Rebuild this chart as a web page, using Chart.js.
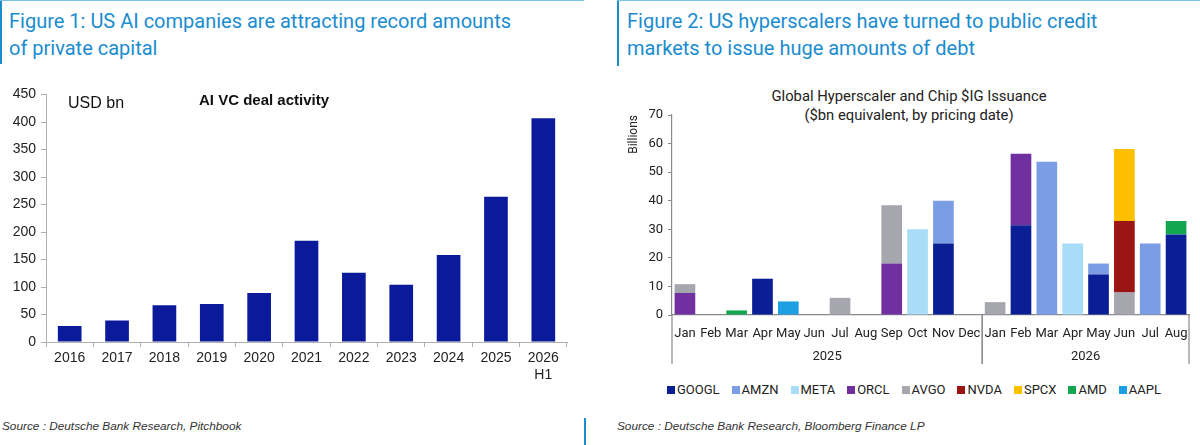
<!DOCTYPE html>
<html lang="en">
<head>
<meta charset="UTF-8">
<title>AI capital charts</title>
<script src="https://cdn.jsdelivr.net/npm/chart.js"></script>
<style>
  * { margin: 0; padding: 0; box-sizing: border-box; }
  body { width: 1200px; height: 445px; background: #fff; position: relative; overflow: hidden; }
  .frame { position: absolute; border-top: 1px solid #7cc0e4; }
  .frame .side { position: absolute; left: 0; top: 0; width: 2px; background: #1a8ccf; }
  .figTitle {
    position: absolute; font-family: Roboto, sans-serif; font-size: 20px; line-height: 27px;
    color: #1a8ccf; white-space: nowrap;
  }
  .box { position: absolute; }
  .note { position: absolute; white-space: nowrap; }
  .source {
    position: absolute; top: 419px; font-family: "Liberation Sans", Arial, sans-serif;
    font-style: italic; font-size: 11.8px; color: #333; white-space: nowrap;
  }
  #legend {
    position: absolute; left: 667px; top: 382px; display: flex; align-items: center;
    font-family: Roboto, sans-serif; font-size: 13px; color: #222; gap: 12px;
  }
  #legend .item { display: flex; align-items: center; }
  #legend .sw { width: 8px; height: 8px; margin-right: 2px; }
</style>
</head>
<body>

<!-- left panel -->
<div class="frame" style="left:0; top:0; width:584px; height:1px;"><div class="side" style="height:63px;"></div></div>
<div class="figTitle" style="left:9px; top:8px;">Figure 1: US AI companies are attracting record amounts<br>of private capital</div>
<div class="box" style="left:0; top:80px; width:585px; height:310px;"><canvas id="vcChart"></canvas></div>
<div class="note" style="left:68px; top:94px; font-family:'Liberation Sans',Arial,sans-serif; font-size:16px; color:#111;">USD bn</div>
<div class="note" style="left:199px; top:91px; font-family:'Liberation Sans',Arial,sans-serif; font-size:15px; font-weight:bold; color:#111;">AI VC deal activity</div>
<div class="source" style="left:2px;">Source : Deutsche Bank Research, Pitchbook</div>
<div style="position:absolute; left:584px; top:418px; width:2px; height:27px; background:#1a8ccf;"></div>

<!-- right panel -->
<div class="frame" style="left:617px; top:0; width:583px; height:1px;"><div class="side" style="height:65px;"></div></div>
<div class="figTitle" style="left:627px; top:8px;">Figure 2: US hyperscalers have turned to public credit<br>markets to issue huge amounts of debt</div>
<div class="note" style="left:709px; top:87px; width:400px; text-align:center; font-family:Roboto,sans-serif; font-size:14.8px; line-height:19px; color:#222;">Global Hyperscaler and Chip $IG Issuance<br>($bn equivalent, by pricing date)</div>
<div class="box" style="left:600px; top:80px; width:600px; height:300px;"><canvas id="igChart"></canvas></div>
<div id="legend"></div>
<div class="source" style="left:617px;">Source : Deutsche Bank Research, Bloomberg Finance LP</div>

<script>
// ---- Figure 1 data
const vcYears = ['2016', '2017', '2018', '2019', '2020', '2021', '2022', '2023', '2024', '2025', ['2026', 'H1']];
const vcValues = [29, 39, 67, 69, 89, 184, 126, 104, 158, 264, 407];
const vcTicks = [0, 50, 100, 150, 200, 250, 300, 350, 400, 450];

// ---- Figure 2 data
const months = ['Jan', 'Feb', 'Mar', 'Apr', 'May', 'Jun', 'Jul', 'Aug', 'Sep', 'Oct', 'Nov', 'Dec',
                'Jan', 'Feb', 'Mar', 'Apr', 'May', 'Jun', 'Jul', 'Aug'];
const years = ['2025', '2026'];
const monthsPerYear = [12, 8];
const issuers = ['GOOGL', 'AMZN', 'META', 'ORCL', 'AVGO', 'NVDA', 'SPCX', 'AMD', 'AAPL'];
const googl = [0, 0, 0, 12.7, 0, 0, 0, 0, 0, 0, 25, 0,   0, 31.4, 0, 0, 14.2, 0, 0, 28.2];
const amzn  = [0, 0, 0, 0, 0, 0, 0, 0, 0, 0, 15, 0,      0, 0, 53.6, 0, 3.8, 0, 25, 0];
const meta  = [0, 0, 0, 0, 0, 0, 0, 0, 0, 30, 0, 0,      0, 0, 0, 25, 0, 0, 0, 0];
const orcl  = [7.7, 0, 0, 0, 0, 0, 0, 0, 18, 0, 0, 0,    0, 25, 0, 0, 0, 0, 0, 0];
const avgo  = [3.1, 0, 0, 0, 0, 0, 6, 0, 20.4, 0, 0, 0,  4.5, 0, 0, 0, 0, 7.9, 0, 0];
const nvda  = [0, 0, 0, 0, 0, 0, 0, 0, 0, 0, 0, 0,       0, 0, 0, 0, 0, 25, 0, 0];
const spcx  = [0, 0, 0, 0, 0, 0, 0, 0, 0, 0, 0, 0,       0, 0, 0, 0, 0, 25.2, 0, 0];
const amd   = [0, 0, 1.6, 0, 0, 0, 0, 0, 0, 0, 0, 0,     0, 0, 0, 0, 0, 0, 0, 4.7];
const aapl  = [0, 0, 0, 0, 4.75, 0, 0, 0, 0, 0, 0, 0,    0, 0, 0, 0, 0, 0, 0, 0];
const igTicks = [0, 10, 20, 30, 40, 50, 60, 70];

const issuerColors = ['#0a1e96', '#7b9de6', '#a8dcf7', '#7030a0', '#a6a6ae', '#9b1515', '#fdbf00', '#12a650', '#1d9fe4'];
const issuerSeries = [googl, amzn, meta, orcl, avgo, nvda, spcx, amd, aapl];

Chart.defaults.animation = false;

// ---- Figure 1
new Chart(document.getElementById('vcChart'), {
  type: 'bar',
  data: {
    labels: vcYears,
    datasets: [{ data: vcValues, backgroundColor: '#0a1a9b', barPercentage: 0.5, categoryPercentage: 1 }]
  },
  options: {
    responsive: true,
    maintainAspectRatio: false,
    layout: { padding: { top: 14.5, right: 18 } },
    plugins: { legend: { display: false }, tooltip: { enabled: false } },
    scales: {
      x: {
        grid: { offset: true, drawOnChartArea: false, tickLength: 5, color: '#b0b0b0' },
        border: { color: '#b0b0b0' },
        ticks: { color: '#222', padding: 3, maxRotation: 0, autoSkip: false,
                 font: { family: "'Liberation Sans', Arial, sans-serif", size: 14 } },
        afterFit(s) { s.height = 48; }
      },
      y: {
        min: 0, max: 450,
        afterBuildTicks(s) { s.ticks = vcTicks.map(v => ({ value: v })); },
        grid: { drawOnChartArea: false, tickLength: 5, color: '#b0b0b0' },
        border: { color: '#b0b0b0' },
        ticks: { color: '#222', padding: 5,
                 font: { family: "'Liberation Sans', Arial, sans-serif", size: 14 } },
        afterFit(s) { s.width = 46; }
      }
    }
  }
});

// ---- Figure 2: year groups under the month labels
const yearGroups = {
  id: 'yearGroups',
  afterDraw(chart) {
    const { ctx, scales: { x } } = chart;
    const half = (x.getPixelForValue(1) - x.getPixelForValue(0)) / 2;
    const top = x.top, bottom = x.top + 49;
    ctx.save();
    ctx.strokeStyle = '#8a8a8a';
    ctx.lineWidth = 1.2;
    ctx.fillStyle = '#222';
    ctx.font = "13px Roboto, sans-serif";
    ctx.textAlign = 'center';
    ctx.textBaseline = 'middle';
    let start = 0;
    monthsPerYear.forEach((n, i) => {
      const l = x.getPixelForValue(start) - half;
      const r = x.getPixelForValue(start + n - 1) + half;
      ctx.beginPath();
      ctx.moveTo(l, top); ctx.lineTo(l, bottom);
      ctx.moveTo(r, top); ctx.lineTo(r, bottom);
      ctx.stroke();
      ctx.fillText(years[i], (l + r) / 2, top + 42);
      start += n;
    });
    ctx.restore();
  }
};

new Chart(document.getElementById('igChart'), {
  type: 'bar',
  data: {
    labels: months,
    datasets: issuers.map((name, i) => ({
      label: name, data: issuerSeries[i], backgroundColor: issuerColors[i],
      barPercentage: 0.8, categoryPercentage: 1
    }))
  },
  options: {
    responsive: true,
    maintainAspectRatio: false,
    layout: { padding: { top: 35, right: 11, left: 27 } },
    plugins: { legend: { display: false }, tooltip: { enabled: false } },
    scales: {
      x: {
        stacked: true,
        grid: { display: false },
        border: { color: '#8a8a8a', width: 1.2 },
        ticks: { color: '#222', padding: 3, maxRotation: 0, autoSkip: false,
                 font: { family: 'Roboto, sans-serif', size: 13 } },
        afterFit(s) { s.height = 65; }
      },
      y: {
        stacked: true,
        min: 0, max: 70,
        afterBuildTicks(s) { s.ticks = igTicks.map(v => ({ value: v })); },
        grid: { drawOnChartArea: false, tickLength: 4, color: '#8a8a8a' },
        border: { color: '#8a8a8a', width: 1.2 },
        title: { display: true, text: 'Billions', align: 'end', color: '#222', padding: 0,
                 font: { family: 'Roboto, sans-serif', size: 12 } },
        ticks: { color: '#222', padding: 5, font: { family: 'Roboto, sans-serif', size: 13 } },
        afterFit(s) { s.width = 45; }
      }
    }
  },
  plugins: [yearGroups]
});

// legend for figure 2
const legend = document.getElementById('legend');
issuers.forEach((name, i) => {
  const item = document.createElement('div');
  item.className = 'item';
  item.innerHTML = '<div class="sw" style="background:' + issuerColors[i] + '"></div><span>' + name + '</span>';
  legend.appendChild(item);
});
</script>
</body>
</html>
